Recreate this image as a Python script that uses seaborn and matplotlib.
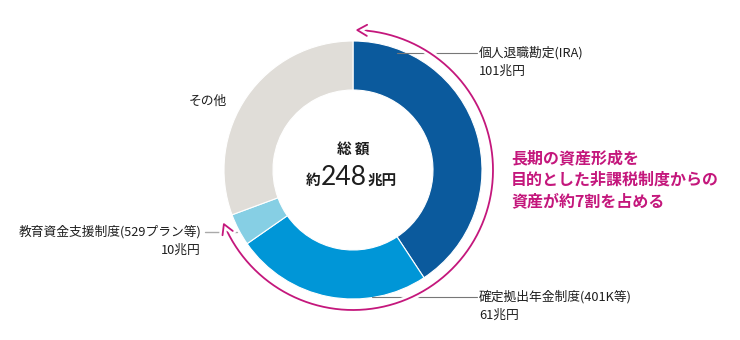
import numpy as np
import matplotlib
matplotlib.use("Agg")
import matplotlib.pyplot as plt
import matplotlib.patheffects as pe
from matplotlib.patches import FancyArrowPatch
from matplotlib.path import Path
import seaborn as sns

# Breakdown of US tax-advantaged savings (trillion yen)
categories = ["個人退職勘定(IRA)", "確定拠出年金制度(401K等)", "教育資金支援制度(529プラン等)", "その他"]
values = [101, 61, 10, 76]
value_labels = ["101兆円", "61兆円", "10兆円", ""]
total_label = "248"
colors = ["#0b5a9d", "#0096d7", "#86cfe4", "#e0ddd8"]
accent = "#c4177c"
message = ["長期の資産形成を", "目的とした非課税制度からの", "資産が約7割を占める"]

sns.set_theme(style="white")
plt.rcParams["font.family"] = ["Noto Sans CJK JP", "DejaVu Sans"]

W, H = 740, 340
fig = plt.figure(figsize=(W / 100, H / 100), dpi=100)
ax = fig.add_axes([0, 0, 1, 1])

cx, cy = 353, H - 170
R_out, R_in = 129, 80

ax.pie(values, radius=R_out, center=(cx, cy), startangle=90, counterclock=False,
       colors=colors, wedgeprops=dict(width=R_out - R_in, edgecolor="white", linewidth=0.8))
ax.set_xlim(0, W)
ax.set_ylim(0, H)
ax.set_aspect("equal")
ax.axis("off")

def Y(y):
    return H - y

line_kw = dict(color="#777777", lw=0.8, zorder=1)
txt_kw = dict(fontsize=9.2, color="#1e1e1e")

# leader lines and labels
ax.plot([397, 477], [Y(53), Y(53)], **line_kw)
ax.text(479, Y(53), categories[0], ha="left", va="center", **txt_kw)
ax.text(479, Y(71), value_labels[0], ha="left", va="center", **txt_kw)

ax.plot([372, 477], [Y(297), Y(297)], **line_kw)
ax.text(479, Y(297), categories[1], ha="left", va="center", **txt_kw)
ax.text(479, Y(315), value_labels[1], ha="left", va="center", **txt_kw)

ax.plot([205, 237], [Y(232), Y(232)], color="#aaaaaa", lw=1.0, zorder=1)
ax.text(201, Y(232), categories[2], ha="right", va="center", **txt_kw)
ax.text(201, Y(250), value_labels[2], ha="right", va="center", **txt_kw)

ax.text(208, Y(101), categories[3], ha="center", va="center", **txt_kw)

# centre total
ax.text(cx, Y(149), "総 額", ha="center", va="center", fontsize=10.5,
        fontweight="bold", color="#1e1e1e")
ax.text(320, Y(185), "約", ha="right", va="baseline", fontsize=10.5,
        fontweight="bold", color="#1e1e1e")
ax.text(344, Y(185), total_label, ha="center", va="baseline", fontsize=19,
        color="#1e1e1e", family=["Lato", "DejaVu Sans"])
ax.text(368, Y(185), "兆円", ha="left", va="baseline", fontsize=10.5,
        fontweight="bold", color="#1e1e1e")

# double-headed arc spanning the tax-advantaged share
r_arc = 140
theta = np.radians(np.linspace(89, -158, 200))
pts = np.column_stack([cx + r_arc * np.cos(theta), cy + r_arc * np.sin(theta)])
arc = FancyArrowPatch(path=Path(pts), arrowstyle="<->,head_length=7,head_width=4",
                      color=accent, lw=1.3, zorder=3, shrinkA=0, shrinkB=0)
arc.set_path_effects([pe.Stroke(linewidth=5, foreground="white"), pe.Normal()])
ax.add_patch(arc)

# message
for i, line in enumerate(message):
    ax.text(511, Y(158 + 21.5 * i), line, ha="left", va="center", fontsize=11.5,
            fontweight="bold", color=accent)

fig.savefig("out.png", dpi=100)
